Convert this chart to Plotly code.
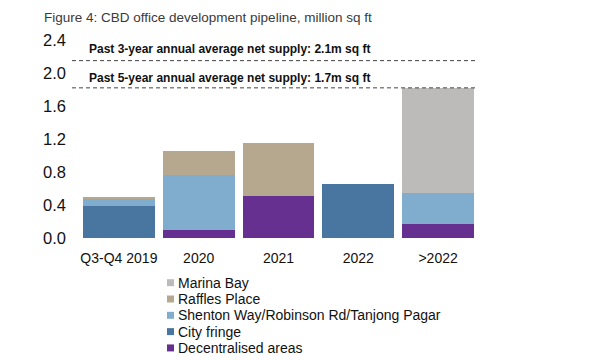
import plotly.graph_objects as go

categories = ["Q3-Q4 2019", "2020", "2021", "2022", ">2022"]
decentralised = [0.0, 0.10, 0.51, 0.0, 0.17]
city_fringe = [0.385, 0.0, 0.0, 0.65, 0.0]
shenton = [0.09, 0.66, 0.0, 0.0, 0.37]
raffles = [0.015, 0.30, 0.64, 0.0, 0.0]
marina = [0.0, 0.0, 0.0, 0.0, 1.28]

y_ticks = [0.0, 0.4, 0.8, 1.2, 1.6, 2.0, 2.4]
y_tick_text = ["0.0", "0.4", "0.8", "1.2", "1.6", "2.0", "2.4"]

ref_levels = [2.15, 1.82]
ref_labels = ["Past 3-year annual average net supply: 2.1m sq ft",
              "Past 5-year annual average net supply: 1.7m sq ft"]
ref_label_y = [2.29, 1.945]

title_text = "Figure 4: CBD office development pipeline, million sq ft"

series = [
    ("Decentralised areas", decentralised, "#65308F"),
    ("City fringe", city_fringe, "#4876A0"),
    ("Shenton Way/Robinson Rd/Tanjong Pagar", shenton, "#80ADCD"),
    ("Raffles Place", raffles, "#B6A78F"),
    ("Marina Bay", marina, "#BDBABA"),
]

# page body adds an 8px offset; compensate so the visible picture matches
OFF = 8
W, H = 600, 360
plot_left, plot_right, plot_top, plot_bottom = 79, 478, 40, 238.5  # target screen px
L = plot_left - OFF
R = W - (plot_right - OFF)
T = plot_top - OFF
B = H - (plot_bottom - OFF)
PW, PH = plot_right - plot_left, plot_bottom - plot_top


def px_x(px):
    return (px - plot_left) / PW


def px_y(py):
    return (plot_bottom - py) / PH


fig = go.Figure()
for name, vals, col in series:
    fig.add_trace(go.Bar(x=categories, y=vals, name=name, showlegend=False,
                         marker=dict(color=col, line=dict(width=0))))

for lvl in ref_levels:
    fig.add_shape(type="line", xref="paper", yref="y", x0=px_x(72), x1=1.0,
                  y0=lvl, y1=lvl, line=dict(color="#444444", width=1, dash="4px,3px"))

for txt, yy in zip(ref_labels, ref_label_y):
    fig.add_annotation(text="<b>" + txt + "</b>", xref="paper", yref="y",
                       x=px_x(87), y=yy, xanchor="left", yanchor="middle", showarrow=False,
                       font=dict(family="Liberation Sans, Arial", size=12, color="#111111"))

# title (kept just inside the top edge of the figure)
fig.add_annotation(text=title_text, xref="paper", yref="paper", x=px_x(42), y=px_y(OFF),
                   xanchor="left", yanchor="top", showarrow=False,
                   font=dict(family="Liberation Sans, Arial", size=13.5, color="#3a3a3a"))

# manual legend (top entry = last series)
row_y0, row_step = 283.3, 16.35
for i, (name, vals, col) in enumerate(reversed(series)):
    cy = row_y0 + i * row_step
    fig.add_shape(type="rect", xref="paper", yref="paper",
                  x0=px_x(167), x1=px_x(174), y0=px_y(cy + 3.5), y1=px_y(cy - 3.5),
                  fillcolor=col, line=dict(width=0))
    fig.add_annotation(text=name, xref="paper", yref="paper", x=px_x(176), y=px_y(cy),
                       xanchor="left", yanchor="middle", showarrow=False,
                       font=dict(family="Liberation Sans, Arial", size=14, color="#111111"))

fig.update_layout(
    width=W, height=H,
    barmode="stack", bargap=0.1,
    plot_bgcolor="white", paper_bgcolor="white",
    margin=dict(l=L, r=R, t=T, b=B, autoexpand=False),
    font=dict(family="Liberation Sans, Arial", color="#111111"),
    xaxis=dict(showline=False, showgrid=False, ticks="", tickfont=dict(size=14),
               ticklabelstandoff=10),
    yaxis=dict(range=[0, 2.4], tickvals=y_ticks, ticktext=y_tick_text,
               showgrid=False, showline=False, zeroline=False, ticks="",
               tickfont=dict(size=16.5), ticklabelstandoff=12),
    showlegend=False,
)

fig.write_html("out.html")
